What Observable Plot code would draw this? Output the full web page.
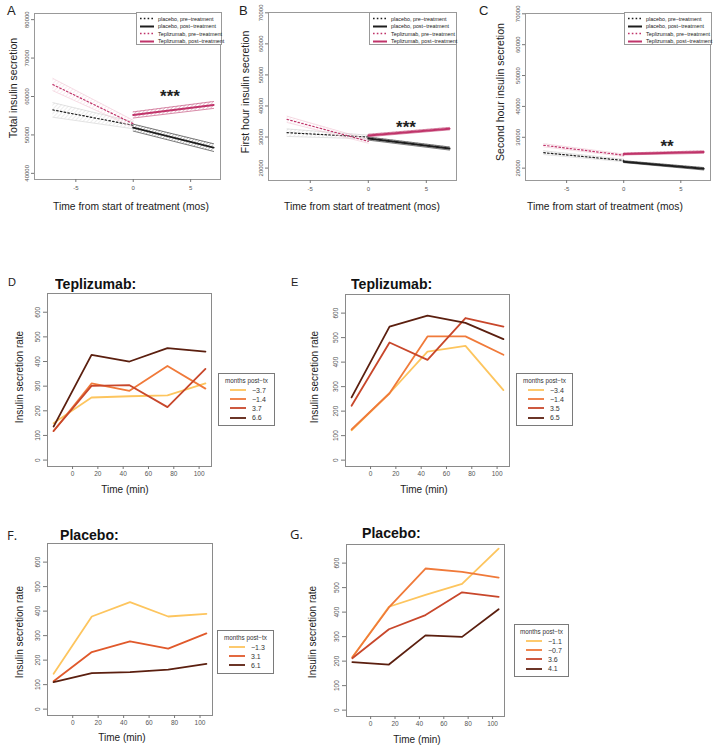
<!DOCTYPE html>
<html><head><meta charset="utf-8">
<script src="https://cdn.jsdelivr.net/npm/d3@7"></script>
<script src="https://cdn.jsdelivr.net/npm/@observablehq/plot@0.6"></script>
<style>
body{margin:0;background:#fff;font-family:"Liberation Sans",Arial,sans-serif;}
#root{position:relative;width:716px;height:750px;overflow:hidden;background:#fff;}
.abs{position:absolute;white-space:nowrap;line-height:1;}
.rot{position:absolute;white-space:nowrap;line-height:1;transform:translate(-50%,-50%) rotate(-90deg);}
.ctr{position:absolute;white-space:nowrap;line-height:1;transform:translate(-50%,-50%);}
.leg{position:absolute;border:1px solid #7a7a7a;background:#fff;box-sizing:border-box;overflow:visible;}
.leg .row{position:absolute;display:flex;align-items:center;white-space:nowrap;width:max-content;}
.leg .row span{white-space:nowrap;flex:none;}
.leg .row svg{flex:none;}
</style></head><body>
<svg width="0" height="0" style="position:absolute">
<defs>
<pattern id="hPP" width="3" height="3" patternUnits="userSpaceOnUse" patternTransform="rotate(45)"><line x1="0" y1="0" x2="0" y2="3" stroke="#c9c9c9" stroke-width="0.7"/></pattern>
<pattern id="hTP" width="3" height="3" patternUnits="userSpaceOnUse" patternTransform="rotate(45)"><line x1="0" y1="0" x2="0" y2="3" stroke="#efc3d2" stroke-width="0.7"/></pattern>
<pattern id="hPO" width="2.5" height="2.5" patternUnits="userSpaceOnUse" patternTransform="rotate(45)"><line x1="0" y1="0" x2="0" y2="2.5" stroke="#555" stroke-width="0.7"/></pattern>
<pattern id="hTO" width="2.5" height="2.5" patternUnits="userSpaceOnUse" patternTransform="rotate(45)"><line x1="0" y1="0" x2="0" y2="2.5" stroke="#c75a84" stroke-width="0.7"/></pattern>
</defs></svg>
<div id="root"></div>
<script>
// ---------- DATA: top panels (A, B, C) ----------
const topXTicks = [-5, 0, 5];
const preX = [-7, 0];
const postX = [0, 7];
const topLegendLabels = ["placebo, pre\u2212treatment", "placebo, post\u2212treatment", "Teplizumab, pre\u2212treatment", "Teplizumab, post\u2212treatment"];

// A: Total insulin secretion
const aYTicks = [40000, 50000, 60000, 70000, 80000];
const aPlaceboPre = [56500, 52500], aPlaceboPreLo = [54600, 51600], aPlaceboPreHi = [58400, 53400];
const aTepPre = [63100, 52900], aTepPreLo = [61500, 52000], aTepPreHi = [64700, 53800];
const aPlaceboPost = [51900, 46700], aPlaceboPostLo = [51000, 45700], aPlaceboPostHi = [52800, 47700];
const aTepPost = [55200, 57800], aTepPostLo = [54400, 56900], aTepPostHi = [56000, 58700];
const aStar = {x: 3.2, y: 61300, label: "***"};

// B: First hour insulin secretion
const bYTicks = [20000, 30000, 40000, 50000, 60000, 70000];
const bPlaceboPre = [31400, 30000], bPlaceboPreLo = [30200, 29400], bPlaceboPreHi = [32600, 30600];
const bTepPre = [35700, 28600], bTepPreLo = [34700, 28000], bTepPreHi = [36700, 29200];
const bPlaceboPost = [29500, 26300], bPlaceboPostLo = [29000, 25800], bPlaceboPostHi = [30000, 26800];
const bTepPost = [30500, 32700], bTepPostLo = [30100, 32300], bTepPostHi = [30900, 33100];
const bStar = {x: 3.25, y: 34600, label: "***"};

// C: Second hour insulin secretion
const cYTicks = [20000, 30000, 40000, 50000, 60000, 70000];
const cPlaceboPre = [25000, 22500], cPlaceboPreLo = [24400, 22100], cPlaceboPreHi = [25600, 22900];
const cTepPre = [27400, 24200], cTepPreLo = [26900, 23800], cTepPreHi = [27900, 24600];
const cPlaceboPost = [22100, 19800], cPlaceboPostLo = [21800, 19400], cPlaceboPostHi = [22400, 20200];
const cTepPost = [24600, 25200], cTepPostLo = [24300, 24800], cTepPostHi = [24900, 25600];
const cStar = {x: 3.8, y: 28700, label: "**"};

// ---------- DATA: bottom panels (D, E, F, G) ----------
const timeMin = [-15, 15, 45, 75, 105];
const minXTicks = [0, 20, 40, 60, 80, 100];
const rateYTicks = [0, 100, 200, 300, 400, 500, 600];

const dLabels = ["\u22123.7", "\u22121.4", "3.7", "6.6"];
const dValues = [
  [150, 254, 259, 263, 311],
  [118, 311, 281, 382, 290],
  [118, 301, 304, 215, 370],
  [136, 427, 400, 454, 440]
];
const eLabels = ["\u22123.4", "\u22121.4", "3.5", "6.5"];
const eValues = [
  [122, 273, 443, 466, 286],
  [125, 273, 505, 505, 430],
  [222, 480, 409, 580, 545],
  [256, 545, 590, 560, 494]
];
const fLabels = ["\u22121.3", "3.1", "6.1"];
const fValues = [
  [144, 378, 437, 378, 389],
  [114, 233, 277, 247, 309],
  [110, 147, 151, 161, 185]
];
const gLabels = ["\u22121.1", "\u22120.7", "3.6", "4.1"];
const gValues = [
  [216, 422, 470, 515, 659],
  [216, 419, 578, 564, 541],
  [212, 330, 388, 481, 462],
  [196, 186, 305, 299, 412]
];
const colors4 = ["#FDC55E", "#F07A3A", "#C8472B", "#5B1F0F"];
const colors3 = ["#FDC55E", "#E0592B", "#5B1F0F"];

// ---------- helpers ----------
const root = document.getElementById("root");
function place(el, left, top) { el.style.position = "absolute"; el.style.left = left + "px"; el.style.top = top + "px"; root.appendChild(el); }
function txt(cls, text, left, top, style) {
  const d = document.createElement("div"); d.className = cls; d.textContent = text;
  d.style.left = left + "px"; d.style.top = top + "px"; Object.assign(d.style, style || {}); root.appendChild(d); return d;
}
const PLACEBO = "#1e1e1e", TEP = "#c0346a";

function seg(xs, y, lo, hi) { return xs.map((x, i) => ({x, y: y[i], lo: lo[i], hi: hi[i]})); }

function bandMarks(rows, fill, edge, edgeW, line, lineW, dash) {
  return [
    Plot.areaY(rows, {x: "x", y1: "lo", y2: "hi", fill}),
    Plot.lineY(rows, {x: "x", y: "lo", stroke: edge, strokeWidth: edgeW}),
    Plot.lineY(rows, {x: "x", y: "hi", stroke: edge, strokeWidth: edgeW}),
    Plot.lineY(rows, {x: "x", y: "y", stroke: line, strokeWidth: lineW, strokeDasharray: dash})
  ];
}

function topPanel(o) {
  return Plot.plot({
    width: o.width, height: 200,
    marginLeft: o.ml, marginRight: 5, marginTop: o.mt, marginBottom: 200 - o.bottom,
    x: {domain: [-8.6, 7.6]},
    y: {domain: o.ydomain},
    style: {fontSize: "6px", fontFamily: "Liberation Sans, Arial, sans-serif", color: "#555", background: "transparent", overflow: "visible"},
    marks: [
      ...bandMarks(seg(preX, o.pp, o.ppLo, o.ppHi), "url(#hPP)", "#d0d0d0", 0.6, PLACEBO, 1.2, "1.6,2.2"),
      ...bandMarks(seg(preX, o.tp, o.tpLo, o.tpHi), "url(#hTP)", "#f0c6d4", 0.6, TEP, 1.2, "1.6,2.2"),
      ...bandMarks(seg(postX, o.po, o.poLo, o.poHi), "url(#hPO)", "#444", 0.7, PLACEBO, 2, null),
      ...bandMarks(seg(postX, o.to, o.toLo, o.toHi), "url(#hTO)", "#c75a84", 0.7, TEP, 2, null),
      Plot.text([o.star], {x: "x", y: "y", text: "label", fontSize: 17, fontWeight: "bold", fill: "#222", dy: 5, letterSpacing: 1}),
      Plot.frame({stroke: "#999"}),
      Plot.axisX({ticks: topXTicks, tickSize: 3, tickPadding: 3, label: null, tickFormat: d => String(d), stroke: "#777"}),
      Plot.axisY({ticks: o.yticks, tickSize: 3, tickPadding: 3, label: null, tickFormat: d => String(d), tickRotate: -90, textAnchor: "middle", lineAnchor: "bottom", stroke: "#777"})
    ]
  });
}

function topLegend(left, top, width) {
  const box = document.createElement("div"); box.className = "leg";
  Object.assign(box.style, {left: left + "px", top: top + "px", width: width + "px", height: "33px", borderColor: "#999"});
  const specs = [[PLACEBO, "1.6,2.2", 1.3], [PLACEBO, null, 2], [TEP, "1.6,2.2", 1.3], [TEP, null, 2]];
  topLegendLabels.forEach((lab, i) => {
    const r = document.createElement("div"); r.className = "row";
    r.style.left = "2px"; r.style.top = (2 + i * 7.5) + "px"; r.style.height = "7px";
    const [c, dash, w] = specs[i];
    r.innerHTML = `<svg width="16" height="7"><line x1="1" y1="3.5" x2="15" y2="3.5" stroke="${c}" stroke-width="${w}" ${dash ? `stroke-dasharray="${dash}"` : ""}/></svg><span style="font-size:5.4px;color:#222;margin-left:3px">${lab}</span>`;
    box.appendChild(r);
  });
  root.appendChild(box);
}

function minPanel(o) {
  const rows = [];
  o.values.forEach((vals, i) => vals.forEach((v, j) => rows.push({t: timeMin[j], v, s: o.labels[i]})));
  return Plot.plot({
    width: o.width, height: o.height,
    marginLeft: o.ml, marginRight: 5, marginTop: o.mt, marginBottom: 18,
    x: {domain: [-19.8, 109.8]},
    y: {domain: [-26, 676]},
    color: {domain: o.labels, range: o.colors},
    style: {fontSize: "6.5px", fontFamily: "Liberation Sans, Arial, sans-serif", color: "#555", background: "transparent", overflow: "visible"},
    marks: [
      Plot.line(rows, {x: "t", y: "v", z: "s", stroke: "s", strokeWidth: 1.8}),
      Plot.frame({stroke: "#8a8a8a"}),
      Plot.axisX({ticks: minXTicks, tickSize: 3, tickPadding: 2, label: null, stroke: "#777"}),
      Plot.axisY({ticks: rateYTicks, tickSize: 4, tickPadding: 4, label: null, tickRotate: -90, textAnchor: "middle", lineAnchor: "bottom", stroke: "#777"})
    ]
  });
}

function minLegend(left, top, width, labels, cols) {
  const box = document.createElement("div"); box.className = "leg";
  const h = 16 + labels.length * 9.2;
  Object.assign(box.style, {left: left + "px", top: top + "px", width: width + "px", height: h + "px"});
  const t = document.createElement("div");
  t.textContent = "months post\u2212tx";
  Object.assign(t.style, {position: "absolute", left: "0", right: "0", top: "3px", textAlign: "center", fontSize: "6.3px", color: "#333", whiteSpace: "nowrap"});
  box.appendChild(t);
  labels.forEach((lab, i) => {
    const r = document.createElement("div"); r.className = "row";
    r.style.left = "10px"; r.style.top = (12 + i * 9.2) + "px"; r.style.height = "8px";
    r.innerHTML = `<svg width="18" height="8"><line x1="1" y1="4" x2="17" y2="4" stroke="${cols[i]}" stroke-width="1.8"/></svg><span style="font-size:7px;color:#333;margin-left:5px">${lab}</span>`;
    box.appendChild(r);
  });
  root.appendChild(box);
}

// ---------- TOP ROW ----------
place(topPanel({width: 225, ml: 34, mt: 13, bottom: 179, ydomain: [38400, 81600], yticks: aYTicks,
  pp: aPlaceboPre, ppLo: aPlaceboPreLo, ppHi: aPlaceboPreHi, tp: aTepPre, tpLo: aTepPreLo, tpHi: aTepPreHi,
  po: aPlaceboPost, poLo: aPlaceboPostLo, poHi: aPlaceboPostHi, to: aTepPost, toLo: aTepPostLo, toHi: aTepPostHi, star: aStar}), 0, 0);
place(topPanel({width: 227, ml: 34, mt: 12, bottom: 180, ydomain: [16000, 70100], yticks: bYTicks,
  pp: bPlaceboPre, ppLo: bPlaceboPreLo, ppHi: bPlaceboPreHi, tp: bTepPre, tpLo: bTepPreLo, tpHi: bTepPreHi,
  po: bPlaceboPost, poLo: bPlaceboPostLo, poHi: bPlaceboPostHi, to: bTepPost, toLo: bTepPostLo, toHi: bTepPostHi, star: bStar}), 234, 0);
place(topPanel({width: 225, ml: 35, mt: 13, bottom: 180, ydomain: [16000, 70100], yticks: cYTicks,
  pp: cPlaceboPre, ppLo: cPlaceboPreLo, ppHi: cPlaceboPreHi, tp: cTepPre, tpLo: cTepPreLo, tpHi: cTepPreHi,
  po: cPlaceboPost, poLo: cPlaceboPostLo, poHi: cPlaceboPostHi, to: cTepPost, toLo: cTepPostLo, toHi: cTepPostHi, star: cStar}), 490, 0);

topLegend(136, 12, 86);
topLegend(369, 12, 88);
topLegend(624, 12, 88);

txt("abs", "A", 7, 4, {fontSize: "13px", color: "#222"});
txt("abs", "B", 239, 4, {fontSize: "13px", color: "#222"});
txt("abs", "C", 479, 4, {fontSize: "13px", color: "#222"});
txt("rot", "Total insulin secretion", 13, 88, {fontSize: "10.5px", color: "#222"});
txt("rot", "First hour insulin secretion", 245, 92, {fontSize: "10.5px", color: "#222"});
txt("rot", "Second hour insulin secretion", 500, 92, {fontSize: "10.5px", color: "#222"});
txt("ctr", "Time from start of treatment (mos)", 131, 207, {fontSize: "10.3px", color: "#222"});
txt("ctr", "Time from start of treatment (mos)", 362, 207, {fontSize: "10.3px", color: "#222"});
txt("ctr", "Time from start of treatment (mos)", 605, 207, {fontSize: "10.3px", color: "#222"});

// ---------- D, E ----------
place(minPanel({width: 216, height: 194, ml: 47, mt: 3, labels: dLabels, values: dValues, colors: colors4}), 0, 290);
place(minPanel({width: 214, height: 194, ml: 45, mt: 4, labels: eLabels, values: eValues, colors: colors4}), 300, 290);
minLegend(218, 373, 57, dLabels, colors4);
minLegend(516, 373, 57, eLabels, colors4);
const sq = {fontSize: "15.5px", fontWeight: "bold", color: "#111", transformOrigin: "0 0", transform: "scaleX(0.91)"};
txt("abs", "D", 8, 277, {fontSize: "11px", color: "#222"});
txt("abs", "E", 291, 277, {fontSize: "11px", color: "#222"});
txt("abs", "Teplizumab:", 55, 276, sq);
txt("abs", "Teplizumab:", 351, 276, sq);
txt("rot", "Insulin secretion rate", 20, 377, {fontSize: "10px", color: "#222"});
txt("rot", "Insulin secretion rate", 315, 377, {fontSize: "10px", color: "#222"});
txt("ctr", "Time (min)", 125, 490, {fontSize: "10px", color: "#222"});
txt("ctr", "Time (min)", 424, 490, {fontSize: "10px", color: "#222"});

// ---------- F, G ----------
place(minPanel({width: 217, height: 193, ml: 47, mt: 3, labels: fLabels, values: fValues, colors: colors3}), 0, 540);
place(minPanel({width: 209, height: 194, ml: 46, mt: 4, labels: gLabels, values: gValues, colors: colors4}), 300, 540);
minLegend(217, 630, 57, fLabels, colors3);
minLegend(514, 624, 55, gLabels, colors4);
txt("abs", "F.", 7, 529, {fontSize: "13px", color: "#222", fontFamily: "'Open Sans', sans-serif"});
txt("abs", "G.", 290, 528, {fontSize: "13px", color: "#222", fontFamily: "'Open Sans', sans-serif"});
txt("abs", "Placebo:", 60, 527, sq);
txt("abs", "Placebo:", 362, 525, sq);
txt("rot", "Insulin secretion rate", 20, 632, {fontSize: "10px", color: "#222"});
txt("rot", "Insulin secretion rate", 313, 632, {fontSize: "10px", color: "#222"});
txt("ctr", "Time (min)", 122, 738, {fontSize: "10px", color: "#222"});
txt("ctr", "Time (min)", 417, 740, {fontSize: "10px", color: "#222"});
</script>
</body></html>
